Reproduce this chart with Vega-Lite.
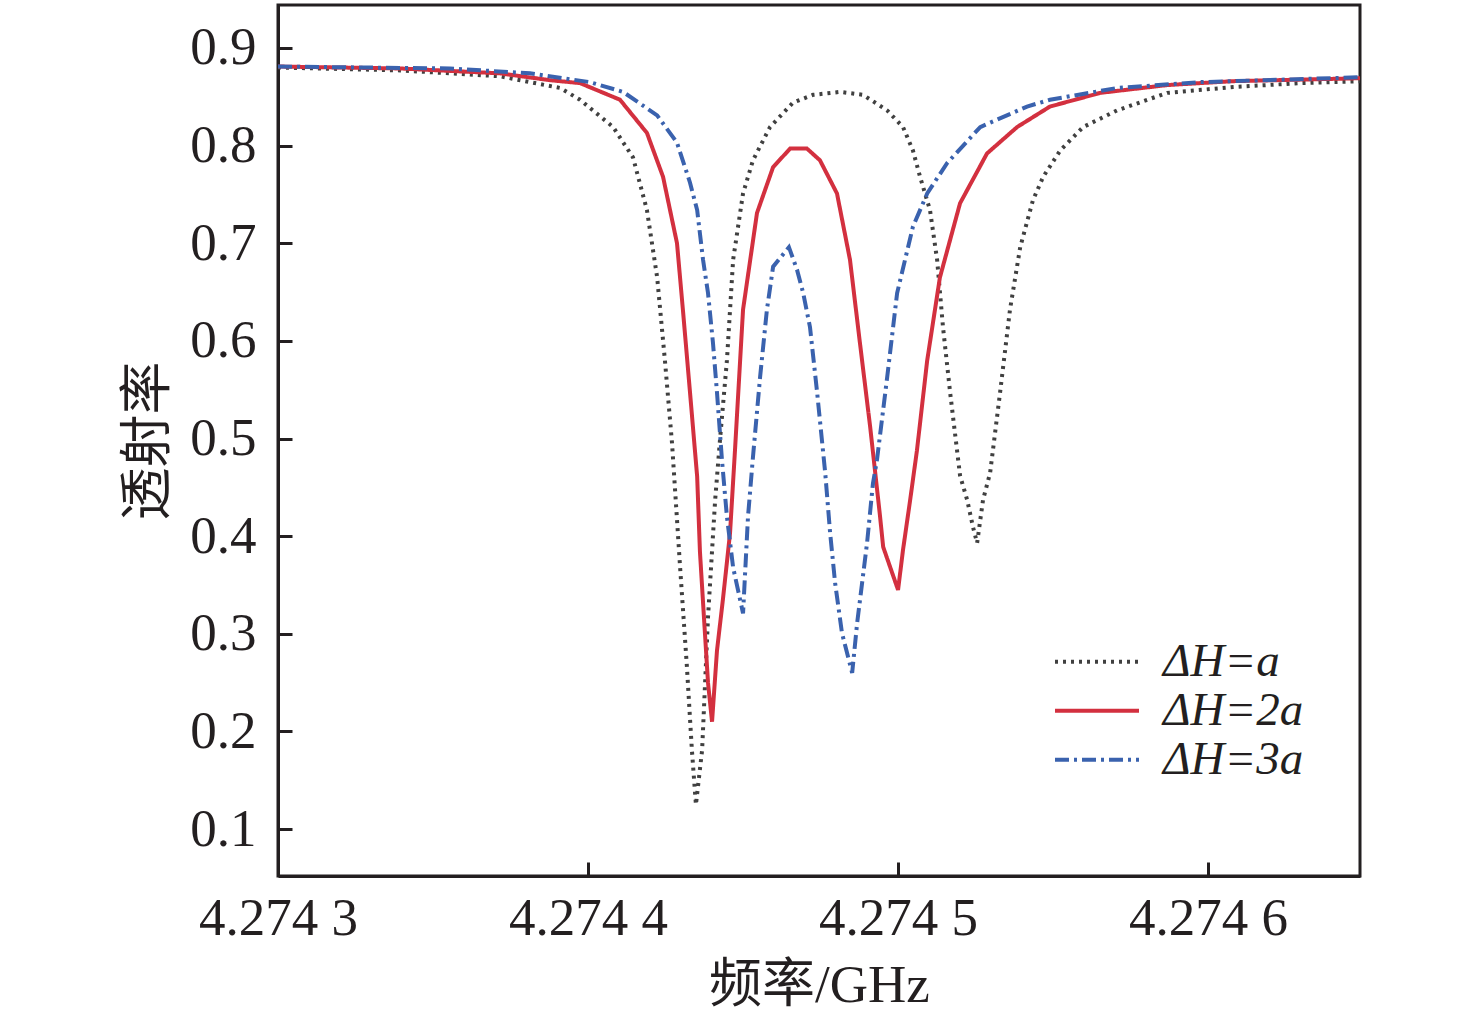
{
  "$schema": "https://vega.github.io/schema/vega-lite/v6.json",
  "width": 1082,
  "height": 871,
  "autosize": {"type": "none"},
  "padding": {"left": 278, "top": 5, "right": 116, "bottom": 148},
  "background": "white",
  "config": {
    "view": {"stroke": "#231f20", "strokeWidth": 3},
    "axis": {
      "domainColor": "#231f20",
      "domainWidth": 3,
      "tickColor": "#231f20",
      "tickWidth": 3,
      "tickSize": -14,
      "grid": false,
      "labelFlush": false,
      "labelOverlap": false,
      "labelFont": "Liberation Serif",
      "labelFontSize": 53,
      "labelColor": "#231f20",
      "titleFont": "Liberation Serif, Noto Sans CJK SC",
      "titleFontSize": 53,
      "titleFontWeight": "normal",
      "titleColor": "#231f20"
    }
  },
  "datasets": {
    "curves": [
      {"s": "a", "f": 4.2743000, "T": 0.880},
      {"s": "a", "f": 4.2743394, "T": 0.877},
      {"s": "a", "f": 4.2743716, "T": 0.871},
      {"s": "a", "f": 4.2743910, "T": 0.859},
      {"s": "a", "f": 4.2743974, "T": 0.847},
      {"s": "a", "f": 4.2744081, "T": 0.819},
      {"s": "a", "f": 4.2744145, "T": 0.788},
      {"s": "a", "f": 4.2744190, "T": 0.734},
      {"s": "a", "f": 4.2744223, "T": 0.665},
      {"s": "a", "f": 4.2744248, "T": 0.580},
      {"s": "a", "f": 4.2744271, "T": 0.495},
      {"s": "a", "f": 4.2744297, "T": 0.368},
      {"s": "a", "f": 4.2744319, "T": 0.266},
      {"s": "a", "f": 4.2744335, "T": 0.181},
      {"s": "a", "f": 4.2744348, "T": 0.125},
      {"s": "a", "f": 4.2744368, "T": 0.181},
      {"s": "a", "f": 4.2744387, "T": 0.317},
      {"s": "a", "f": 4.2744410, "T": 0.437},
      {"s": "a", "f": 4.2744426, "T": 0.500},
      {"s": "a", "f": 4.2744448, "T": 0.580},
      {"s": "a", "f": 4.2744468, "T": 0.683},
      {"s": "a", "f": 4.2744500, "T": 0.751},
      {"s": "a", "f": 4.2744532, "T": 0.785},
      {"s": "a", "f": 4.2744587, "T": 0.819},
      {"s": "a", "f": 4.2744661, "T": 0.844},
      {"s": "a", "f": 4.2744726, "T": 0.852},
      {"s": "a", "f": 4.2744813, "T": 0.855},
      {"s": "a", "f": 4.2744887, "T": 0.852},
      {"s": "a", "f": 4.2744965, "T": 0.836},
      {"s": "a", "f": 4.2745016, "T": 0.819},
      {"s": "a", "f": 4.2745048, "T": 0.795},
      {"s": "a", "f": 4.2745071, "T": 0.768},
      {"s": "a", "f": 4.2745103, "T": 0.734},
      {"s": "a", "f": 4.2745126, "T": 0.683},
      {"s": "a", "f": 4.2745145, "T": 0.614},
      {"s": "a", "f": 4.2745168, "T": 0.547},
      {"s": "a", "f": 4.2745200, "T": 0.462},
      {"s": "a", "f": 4.2745223, "T": 0.437},
      {"s": "a", "f": 4.2745242, "T": 0.409},
      {"s": "a", "f": 4.2745255, "T": 0.393},
      {"s": "a", "f": 4.2745274, "T": 0.437},
      {"s": "a", "f": 4.2745297, "T": 0.465},
      {"s": "a", "f": 4.2745329, "T": 0.547},
      {"s": "a", "f": 4.2745361, "T": 0.632},
      {"s": "a", "f": 4.2745394, "T": 0.696},
      {"s": "a", "f": 4.2745435, "T": 0.744},
      {"s": "a", "f": 4.2745468, "T": 0.768},
      {"s": "a", "f": 4.2745523, "T": 0.795},
      {"s": "a", "f": 4.2745597, "T": 0.819},
      {"s": "a", "f": 4.2745706, "T": 0.836},
      {"s": "a", "f": 4.2745868, "T": 0.854},
      {"s": "a", "f": 4.2746081, "T": 0.860},
      {"s": "a", "f": 4.2746297, "T": 0.864},
      {"s": "a", "f": 4.2746490, "T": 0.866},

      {"s": "2a", "f": 4.2743000, "T": 0.881},
      {"s": "2a", "f": 4.2743394, "T": 0.879},
      {"s": "2a", "f": 4.2743716, "T": 0.874},
      {"s": "2a", "f": 4.2743877, "T": 0.867},
      {"s": "2a", "f": 4.2743974, "T": 0.864},
      {"s": "2a", "f": 4.2744103, "T": 0.847},
      {"s": "2a", "f": 4.2744190, "T": 0.813},
      {"s": "2a", "f": 4.2744242, "T": 0.768},
      {"s": "2a", "f": 4.2744287, "T": 0.700},
      {"s": "2a", "f": 4.2744306, "T": 0.632},
      {"s": "2a", "f": 4.2744329, "T": 0.547},
      {"s": "2a", "f": 4.2744352, "T": 0.461},
      {"s": "2a", "f": 4.2744361, "T": 0.384},
      {"s": "2a", "f": 4.2744377, "T": 0.301},
      {"s": "2a", "f": 4.2744387, "T": 0.250},
      {"s": "2a", "f": 4.2744400, "T": 0.210},
      {"s": "2a", "f": 4.2744416, "T": 0.283},
      {"s": "2a", "f": 4.2744435, "T": 0.335},
      {"s": "2a", "f": 4.2744458, "T": 0.403},
      {"s": "2a", "f": 4.2744474, "T": 0.488},
      {"s": "2a", "f": 4.2744500, "T": 0.632},
      {"s": "2a", "f": 4.2744545, "T": 0.731},
      {"s": "2a", "f": 4.2744597, "T": 0.778},
      {"s": "2a", "f": 4.2744652, "T": 0.797},
      {"s": "2a", "f": 4.2744706, "T": 0.797},
      {"s": "2a", "f": 4.2744748, "T": 0.785},
      {"s": "2a", "f": 4.2744803, "T": 0.751},
      {"s": "2a", "f": 4.2744845, "T": 0.683},
      {"s": "2a", "f": 4.2744877, "T": 0.598},
      {"s": "2a", "f": 4.2744910, "T": 0.512},
      {"s": "2a", "f": 4.2744942, "T": 0.420},
      {"s": "2a", "f": 4.2744952, "T": 0.389},
      {"s": "2a", "f": 4.2745000, "T": 0.345},
      {"s": "2a", "f": 4.2745016, "T": 0.386},
      {"s": "2a", "f": 4.2745039, "T": 0.437},
      {"s": "2a", "f": 4.2745061, "T": 0.488},
      {"s": "2a", "f": 4.2745094, "T": 0.580},
      {"s": "2a", "f": 4.2745135, "T": 0.665},
      {"s": "2a", "f": 4.2745200, "T": 0.741},
      {"s": "2a", "f": 4.2745287, "T": 0.792},
      {"s": "2a", "f": 4.2745384, "T": 0.819},
      {"s": "2a", "f": 4.2745490, "T": 0.840},
      {"s": "2a", "f": 4.2745652, "T": 0.854},
      {"s": "2a", "f": 4.2745868, "T": 0.862},
      {"s": "2a", "f": 4.2746081, "T": 0.866},
      {"s": "2a", "f": 4.2746490, "T": 0.869},

      {"s": "3a", "f": 4.2743000, "T": 0.881},
      {"s": "3a", "f": 4.2743555, "T": 0.879},
      {"s": "3a", "f": 4.2743813, "T": 0.874},
      {"s": "3a", "f": 4.2744006, "T": 0.865},
      {"s": "3a", "f": 4.2744113, "T": 0.855},
      {"s": "3a", "f": 4.2744223, "T": 0.831},
      {"s": "3a", "f": 4.2744287, "T": 0.803},
      {"s": "3a", "f": 4.2744329, "T": 0.762},
      {"s": "3a", "f": 4.2744352, "T": 0.734},
      {"s": "3a", "f": 4.2744371, "T": 0.683},
      {"s": "3a", "f": 4.2744387, "T": 0.649},
      {"s": "3a", "f": 4.2744403, "T": 0.598},
      {"s": "3a", "f": 4.2744416, "T": 0.547},
      {"s": "3a", "f": 4.2744432, "T": 0.478},
      {"s": "3a", "f": 4.2744448, "T": 0.420},
      {"s": "3a", "f": 4.2744468, "T": 0.368},
      {"s": "3a", "f": 4.2744500, "T": 0.321},
      {"s": "3a", "f": 4.2744516, "T": 0.420},
      {"s": "3a", "f": 4.2744532, "T": 0.481},
      {"s": "3a", "f": 4.2744555, "T": 0.563},
      {"s": "3a", "f": 4.2744577, "T": 0.632},
      {"s": "3a", "f": 4.2744597, "T": 0.676},
      {"s": "3a", "f": 4.2744648, "T": 0.696},
      {"s": "3a", "f": 4.2744674, "T": 0.673},
      {"s": "3a", "f": 4.2744694, "T": 0.649},
      {"s": "3a", "f": 4.2744716, "T": 0.614},
      {"s": "3a", "f": 4.2744739, "T": 0.547},
      {"s": "3a", "f": 4.2744765, "T": 0.465},
      {"s": "3a", "f": 4.2744781, "T": 0.403},
      {"s": "3a", "f": 4.2744797, "T": 0.352},
      {"s": "3a", "f": 4.2744819, "T": 0.301},
      {"s": "3a", "f": 4.2744852, "T": 0.260},
      {"s": "3a", "f": 4.2744868, "T": 0.311},
      {"s": "3a", "f": 4.2744900, "T": 0.393},
      {"s": "3a", "f": 4.2744919, "T": 0.454},
      {"s": "3a", "f": 4.2744932, "T": 0.478},
      {"s": "3a", "f": 4.2744965, "T": 0.563},
      {"s": "3a", "f": 4.2744997, "T": 0.649},
      {"s": "3a", "f": 4.2745048, "T": 0.717},
      {"s": "3a", "f": 4.2745094, "T": 0.751},
      {"s": "3a", "f": 4.2745158, "T": 0.782},
      {"s": "3a", "f": 4.2745265, "T": 0.819},
      {"s": "3a", "f": 4.2745416, "T": 0.840},
      {"s": "3a", "f": 4.2745490, "T": 0.847},
      {"s": "3a", "f": 4.2745706, "T": 0.859},
      {"s": "3a", "f": 4.2745974, "T": 0.865},
      {"s": "3a", "f": 4.2746490, "T": 0.870}
    ]
  },
  "data": {"name": "curves"},
  "mark": {"type": "line", "strokeWidth": 4, "clip": true},
  "encoding": {
    "x": {
      "field": "f",
      "type": "quantitative",
      "title": "频率/GHz",
      "scale": {"domain": [4.2743, 4.274649], "nice": false, "zero": false},
      "axis": {
        "values": [4.2743, 4.2744, 4.2745, 4.2746],
        "labelExpr": "slice(format(datum.value, '.4f'), 0, 5) + ' ' + slice(format(datum.value, '.4f'), 5)",
        "labelPadding": 30,
        "titlePadding": 14
      }
    },
    "y": {
      "field": "T",
      "type": "quantitative",
      "title": "透射率",
      "scale": {"domain": [0.052, 0.944], "nice": false, "zero": false},
      "axis": {
        "values": [0.1, 0.2, 0.3, 0.4, 0.5, 0.6, 0.7, 0.8, 0.9],
        "format": ".1f",
        "labelPadding": 36,
        "titlePadding": 14
      }
    },
    "color": {
      "field": "s",
      "type": "nominal",
      "scale": {"domain": ["a", "2a", "3a"], "range": ["#404040", "#d3303f", "#3a62ae"]},
      "legend": {
        "title": null,
        "orient": "none",
        "legendX": 775,
        "legendY": 633,
        "symbolType": "stroke",
        "symbolSize": 7056,
        "symbolStrokeWidth": 4,
        "clipHeight": 47.5,
        "rowPadding": 0,
        "labelOffset": 22,
        "labelFont": "Liberation Serif",
        "labelFontStyle": "italic",
        "labelFontSize": 47,
        "labelColor": "#231f20",
        "labelExpr": "'ΔH=' + datum.label"
      }
    },
    "strokeDash": {
      "field": "s",
      "type": "nominal",
      "scale": {"domain": ["a", "2a", "3a"], "range": [[3, 5], [1, 0], [14, 5, 3, 5]]},
      "legend": null
    }
  }
}
